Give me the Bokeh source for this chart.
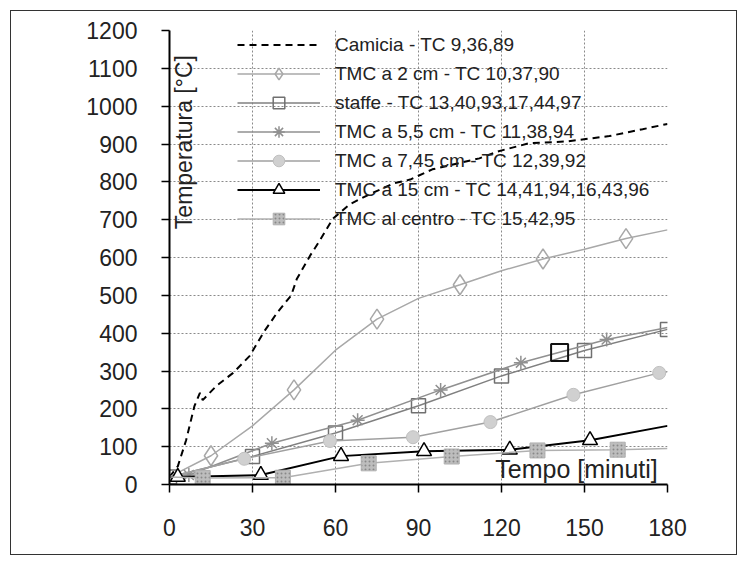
from bokeh.plotting import figure
from bokeh.models import Legend, LegendItem, Label, FixedTicker, Range1d
from bokeh.embed import file_html
from bokeh.resources import INLINE
import math

# ---------------- data ----------------
x_ticks = [0, 30, 60, 90, 120, 150, 180]
y_ticks = [0, 100, 200, 300, 400, 500, 600, 700, 800, 900, 1000, 1100, 1200]

camicia_t = [0, 3, 6, 9, 11, 12, 17, 23, 29, 34, 39, 44, 46, 51, 54, 59, 65, 72, 81, 87, 95, 112, 119, 130, 144, 159, 171, 180]
camicia_T = [20, 48, 117, 207, 242, 223, 261, 295, 340, 402, 455, 500, 543, 607, 641, 702, 740, 766, 796, 806, 833, 862, 881, 902, 907, 921, 939, 953]

tmc2_t = [0, 15, 30, 45, 60, 75, 90, 105, 120, 135, 150, 165, 180]
tmc2_T = [20, 76, 155, 250, 355, 437, 492, 528, 565, 596, 622, 650, 673]
tmc2_marks = [15, 45, 75, 105, 135, 165]

staffe_t = [0, 30, 60, 90, 120, 150, 180]
staffe_T = [20, 74, 136, 208, 287, 354, 410]
staffe_marks = [0, 30, 60, 90, 120, 150, 180]

tmc55_t = [0, 7, 37, 68, 98, 127, 158, 180]
tmc55_T = [20, 25, 109, 170, 250, 322, 383, 415]
tmc55_marks = [7, 37, 68, 98, 127, 158]

tmc745_t = [0, 27, 58, 88, 116, 146, 177, 180]
tmc745_T = [20, 68, 115, 125, 165, 237, 295, 298]
tmc745_marks = [27, 58, 88, 116, 146, 177]

tmc15_t = [0, 3, 33, 62, 92, 123, 152, 180]
tmc15_T = [20, 20, 25, 75, 88, 92, 117, 155]
tmc15_marks = [3, 33, 62, 92, 123, 152]

centro_t = [0, 12, 41, 72, 102, 133, 162, 180]
centro_T = [20, 17, 18, 56, 74, 90, 92, 95]
centro_marks = [12, 41, 72, 102, 133, 162]

extra_sq_t = [141]
extra_sq_T = [349]

labels = [
    "Camicia - TC 9,36,89",
    "TMC a 2 cm - TC 10,37,90",
    "staffe - TC 13,40,93,17,44,97",
    "TMC a 5,5 cm - TC 11,38,94",
    "TMC a 7,45 cm - TC 12,39,92",
    "TMC a 15 cm - TC 14,41,94,16,43,96",
    "TMC al centro - TC 15,42,95",
]

FONT = "Liberation Sans"
TXT = "#222222"

p = figure(width=727, height=545, x_range=Range1d(0, 180), y_range=Range1d(0, 1200),
           output_backend="svg", toolbar_location=None,
           min_border_left=158, min_border_right=71, min_border_top=19, min_border_bottom=72)
p.styles = {"margin-left": "10px", "margin-top": "10px", "border": "1px solid #333"}
p.outline_line_color = None
p.background_fill_color = "white"
p.border_fill_color = "white"

# grid
for g in (p.xgrid, p.ygrid):
    g.grid_line_color = "#8a8a8a"
    g.grid_line_dash = "2 2"
    g.grid_line_width = 1
p.xaxis.ticker = FixedTicker(ticks=x_ticks)
p.yaxis.ticker = FixedTicker(ticks=y_ticks)
p.xgrid.ticker = FixedTicker(ticks=x_ticks)
p.ygrid.ticker = FixedTicker(ticks=y_ticks)

for ax in (p.xaxis, p.yaxis):
    ax.axis_line_color = "black"
    ax.axis_line_width = 2
    ax.major_tick_line_color = "black"
    ax.major_tick_line_width = 1.5
    ax.major_tick_out = 8
    ax.major_tick_in = 0
    ax.minor_tick_line_color = None
    ax.major_label_text_font = FONT
    ax.major_label_text_font_size = "23px"
    ax.major_label_text_color = TXT
p.xaxis.major_label_standoff = 26
p.yaxis.major_label_standoff = 24


def pick(ts, Ts, marks):
    d = dict(zip(ts, Ts))
    return marks, [d[m] for m in marks]


items = []
r = p.line(camicia_t, camicia_T, line_color="black", line_width=2, line_dash="7 5")
items.append(LegendItem(label=labels[0], renderers=[r]))

l = p.line(tmc2_t, tmc2_T, line_color="#a8a8a8", line_width=1.5)
mx, my = pick(tmc2_t, tmc2_T, tmc2_marks)
s = p.scatter(mx, my, marker="diamond", size=20, fill_color=None, line_color="#a8a8a8", line_width=1.5)
items.append(LegendItem(label=labels[1], renderers=[l, s]))

l = p.line(staffe_t, staffe_T, line_color="#808080", line_width=1.5)
mx, my = pick(staffe_t, staffe_T, staffe_marks)
s = p.scatter(mx, my, marker="square", size=14, fill_color=None, line_color="#707070", line_width=1.5)
items.append(LegendItem(label=labels[2], renderers=[l, s]))

l = p.line(tmc55_t, tmc55_T, line_color="#909090", line_width=1.5)
mx, my = pick(tmc55_t, tmc55_T, tmc55_marks)
s = p.scatter(mx, my, marker="asterisk", size=14, line_color="#909090", line_width=1.5)
items.append(LegendItem(label=labels[3], renderers=[l, s]))

l = p.line(tmc745_t, tmc745_T, line_color="#a0a0a0", line_width=1.5)
mx, my = pick(tmc745_t, tmc745_T, tmc745_marks)
s = p.scatter(mx, my, marker="circle", size=13, fill_color="#d0d0d0", line_color="#c0c0c0", line_width=1)
items.append(LegendItem(label=labels[4], renderers=[l, s]))

l = p.line(tmc15_t, tmc15_T, line_color="black", line_width=2)
mx, my = pick(tmc15_t, tmc15_T, tmc15_marks)
s = p.scatter(mx, my, marker="triangle", size=15, fill_color="white", line_color="black", line_width=1.5)
items.append(LegendItem(label=labels[5], renderers=[l, s]))

l = p.line(centro_t, centro_T, line_color="#b0b0b0", line_width=1.5)
mx, my = pick(centro_t, centro_T, centro_marks)
s = p.scatter(mx, my, marker="square", size=15, fill_color="#bdbdbd", line_color="#b0b0b0",
              hatch_pattern="dot", hatch_color="#888888", hatch_scale=4)
items.append(LegendItem(label=labels[6], renderers=[l, s]))

p.scatter(extra_sq_t, extra_sq_T, marker="square", size=17, fill_color=None, line_color="#111111", line_width=2)

legend = Legend(items=items, location=(68, 251))
legend.background_fill_alpha = 0
legend.border_line_alpha = 0
legend.padding = 0
legend.margin = 0
legend.spacing = 0
legend.label_height = 29
legend.glyph_height = 29
legend.glyph_width = 83
legend.label_standoff = 15
legend.label_text_font = FONT
legend.label_text_font_size = "19px"
legend.label_text_color = TXT
p.add_layout(legend)

p.add_layout(Label(x=5.1, y=905, text="Temperatura [°C]", angle=math.pi / 2,
                   text_align="center", text_baseline="middle",
                   text_font=FONT, text_font_size="23px", text_color=TXT))
p.add_layout(Label(x=176.5, y=40, text="Tempo [minuti]",
                   text_align="right", text_baseline="middle",
                   text_font=FONT, text_font_size="25px", text_color=TXT))

open("out.html", "w").write(file_html(p, INLINE))
